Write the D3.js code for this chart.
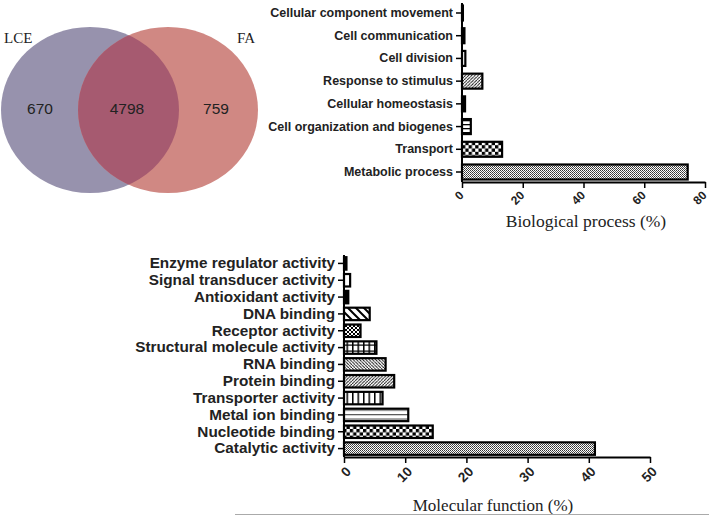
<!DOCTYPE html>
<html><head><meta charset="utf-8">
<script src="https://cdn.jsdelivr.net/npm/d3@7"></script>
<style>body{margin:0;background:#fff}svg{display:block}</style>
</head><body>
<svg id="c" width="709" height="517"></svg>
<script>
// ---- data ----
const vennSets = ["LCE", "FA"];
const vennCounts = [670, 4798, 759]; // LCE only, both, FA only

const bpCategories = ["Cellular component movement","Cell communication","Cell division","Response to stimulus","Cellular homeostasis","Cell organization and biogenes","Transport","Metabolic process"];
const bpValues = [0.3, 0.8, 1.1, 6.7, 1.0, 2.9, 13.2, 74.3];
const bpTicks = [0, 20, 40, 60, 80];
const bpTitle = "Biological process (%)";

const mfCategories = ["Enzyme regulator activity","Signal transducer activity","Antioxidant activity","DNA binding","Receptor activity","Structural molecule activity","RNA binding","Protein binding","Transporter activity","Metal ion binding","Nucleotide binding","Catalytic activity"];
const mfValues = [0.4, 1.0, 0.7, 4.2, 2.7, 5.3, 6.8, 8.2, 6.3, 10.5, 14.5, 41.0];
const mfTicks = [0, 10, 20, 30, 40, 50];
const mfTitle = "Molecular function (%)";

// styles (fills) per bar
const bpFills = ["#000","#000","#fff","url(#diag)","#000","url(#hstripe)","url(#checker)","url(#dots)"];
const mfFills = ["#000","#fff","#000","url(#diagWide)","url(#cross)","url(#grid)","url(#diagBack)","url(#diag)","url(#vstripe)","url(#hline)","url(#checker)","url(#dots)"];

const svg = d3.select("#c");
const defs = svg.append("defs");
function pat(id, w, h, draw){
  const p = defs.append("pattern").attr("id", id).attr("patternUnits","userSpaceOnUse").attr("width", w).attr("height", h);
  p.append("rect").attr("width", w).attr("height", h).attr("fill", "#fff");
  draw(p);
}
pat("dots", 2, 2, p => { p.append("rect").attr("width",1).attr("height",1).attr("fill","#333"); p.append("rect").attr("x",1).attr("y",1).attr("width",1).attr("height",1).attr("fill","#555"); });
pat("checker", 6.6, 6.6, p => { p.append("rect").attr("width",3.3).attr("height",3.3).attr("fill","#000"); p.append("rect").attr("x",3.3).attr("y",3.3).attr("width",3.3).attr("height",3.3).attr("fill","#000"); });
pat("hstripe", 4, 4, p => p.append("rect").attr("y",0).attr("width",4).attr("height",1.3).attr("fill","#000"));
pat("hline", 4, 4.5, p => p.append("rect").attr("y",0).attr("width",4).attr("height",1.2).attr("fill","#555"));
pat("vstripe", 5.5, 4, p => p.append("rect").attr("x",0).attr("width",1.5).attr("height",4).attr("fill","#000"));
pat("grid", 5.5, 6, p => { p.append("rect").attr("width",1.5).attr("height",6).attr("fill","#000"); p.append("rect").attr("y",2.5).attr("width",5.5).attr("height",1.2).attr("fill","#000"); });
pat("diag", 3.2, 3.2, p => p.append("path").attr("d","M-1,4.2 L4.2,-1").attr("stroke","#000").attr("stroke-width",0.9));
pat("diagBack", 3.2, 3.2, p => p.append("path").attr("d","M-1,-1 L4.2,4.2").attr("stroke","#000").attr("stroke-width",0.9));
pat("diagWide", 8, 8, p => { p.append("path").attr("d","M-2,-2 L10,10 M-2,6 L2,10 M6,-2 L10,2").attr("stroke","#000").attr("stroke-width",2); });
pat("cross", 4, 4, p => p.append("path").attr("d","M0,0 L4,4 M4,0 L0,4").attr("stroke","#000").attr("stroke-width",1));

// ---- Venn ----
const vennG = svg.append("g");
const cl = {cx: 90, cy: 110, rx: 89, ry: 83};
const cr = {cx: 168, cy: 110, rx: 90, ry: 83};
defs.append("clipPath").attr("id","clipL").append("ellipse").attr("cx",cl.cx).attr("cy",cl.cy).attr("rx",cl.rx).attr("ry",cl.ry);
vennG.append("ellipse").attr("cx",cl.cx).attr("cy",cl.cy).attr("rx",cl.rx).attr("ry",cl.ry).attr("fill","#9792ad");
vennG.append("ellipse").attr("cx",cr.cx).attr("cy",cr.cy).attr("rx",cr.rx).attr("ry",cr.ry).attr("fill","#d08883");
vennG.append("ellipse").attr("cx",cr.cx).attr("cy",cr.cy).attr("rx",cr.rx).attr("ry",cr.ry).attr("fill","#a65a70").attr("clip-path","url(#clipL)");
const vennX = [40, 127, 216];
vennG.selectAll("text.cnt").data(vennCounts).join("text").attr("class","cnt")
  .attr("x",(d,i)=>vennX[i]).attr("y",114).attr("text-anchor","middle")
  .attr("font-family","Liberation Sans, Arial, sans-serif").attr("font-size",15.5).attr("fill","#222").text(d=>d);
vennG.selectAll("text.set").data(vennSets).join("text").attr("class","set")
  .attr("x",(d,i)=>[4,237][i]).attr("y",43)
  .attr("font-family","Liberation Serif, Times New Roman, serif").attr("font-size",15).attr("fill","#222").text(d=>d);

// ---- bar chart helper ----
function barChart(o){
  const g = svg.append("g");
  const x = d3.scaleLinear().domain([0, o.max]).range([o.x0, o.x1]);
  const y = d3.scaleBand().domain(o.cats).range([o.y0, o.y1]).paddingInner(o.pi).paddingOuter(o.po);
  g.selectAll("rect.bar").data(o.vals).join("rect").attr("class","bar")
    .attr("x", x(0)).attr("y",(d,i)=>y(o.cats[i]))
    .attr("width",d=>x(d)-x(0)).attr("height",y.bandwidth())
    .attr("fill",(d,i)=>o.fills[i]).attr("stroke","#000").attr("stroke-width",2.2);
  const ya = g.append("g").attr("transform",`translate(${o.x0},0)`)
    .call(d3.axisLeft(y).tickSize(6).tickSizeOuter(0).tickPadding(3));
  ya.select(".domain").attr("stroke-width",2).attr("d",`M0,${o.y0}V${o.y1}`);
  ya.selectAll(".tick line").attr("stroke-width",1.5);
  ya.selectAll("text").attr("font-family","Liberation Sans, Arial, sans-serif").attr("font-weight","bold").attr("font-size",o.fs).attr("fill","#222");
  const xa = g.append("g").attr("transform",`translate(0,${o.y1})`)
    .call(d3.axisBottom(x).tickValues(o.ticks).tickSize(6).tickSizeOuter(0).tickFormat(d3.format("d")));
  xa.select(".domain").attr("stroke-width",2);
  xa.selectAll(".tick line").attr("stroke-width",1.5);
  xa.selectAll("text").attr("font-family","Liberation Sans, Arial, sans-serif").attr("font-weight","bold").attr("font-size",o.tfs).attr("fill","#222")
    .attr("text-anchor","end").attr("x",0).attr("y",0).attr("dy","0.35em").attr("transform",`translate(${o.tdx},${o.toff}) rotate(-45)`);
  g.append("text").attr("x",o.tx).attr("y",o.ty).attr("text-anchor","middle")
    .attr("font-family","Liberation Serif, Times New Roman, serif").attr("font-size",o.tts).attr("fill","#222").text(o.title);
}
barChart({cats: bpCategories, vals: bpValues, fills: bpFills, ticks: bpTicks, max: 80, x0: 462, x1: 705, y0: 3, y1: 182, pi: 0.34, po: 0.11, fs: 12.5, tfs: 12, tdx: -1, toff: 11, tts: 17.5, title: bpTitle, tx: 586, ty: 227});
barChart({cats: mfCategories, vals: mfValues, fills: mfFills, ticks: mfTicks, max: 50, x0: 344, x1: 650, y0: 255, y1: 457, pi: 0.26, po: 0.13, fs: 15.3, tfs: 13.5, tdx: 4, toff: 12, tts: 17, title: mfTitle, tx: 493, ty: 511});

svg.append("line").attr("x1",235).attr("x2",709).attr("y1",514.5).attr("y2",514.5).attr("stroke","#aaa").attr("stroke-width",1);
</script>
</body></html>
